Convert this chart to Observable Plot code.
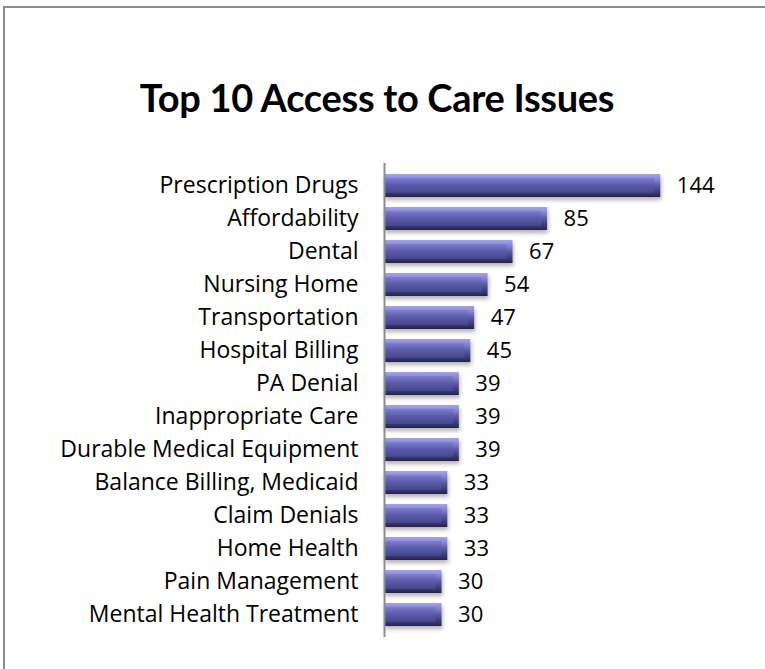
<!DOCTYPE html>
<html>
<head>
<meta charset="utf-8">
<script src="https://cdn.jsdelivr.net/npm/d3@7"></script>
<script src="https://cdn.jsdelivr.net/npm/@observablehq/plot@0.6"></script>
<style>
  html, body { margin: 0; padding: 0; background: #fff; }
  body { width: 765px; height: 669px; position: relative; overflow: hidden; font-family: "Open Sans", Lato, sans-serif; }
  #frame { position: absolute; left: 3px; top: 6px; width: 800px; height: 700px; border-left: 2px solid #8c8c8c; border-top: 2px solid #8c8c8c; }
  #title { position: absolute; left: 0; width: 754px; top: 74px; text-align: center; font-family: Lato, sans-serif; font-weight: 700; font-size: 38px; color: #000; letter-spacing: -0.3px; }
  #chart { position: absolute; left: 0; top: 140px; }
</style>
</head>
<body>
<div id="frame"></div>
<div id="title">Top 10 Access to Care Issues</div>
<div id="chart"></div>
<script>
const categories = ["Prescription Drugs", "Affordability", "Dental", "Nursing Home", "Transportation", "Hospital Billing", "PA Denial", "Inappropriate Care", "Durable Medical Equipment", "Balance Billing, Medicaid", "Claim Denials", "Home Health", "Pain Management", "Mental Health Treatment"];
const counts = [144, 85, 67, 54, 47, 45, 39, 39, 39, 33, 33, 33, 30, 30];

const data = categories.map((c, i) => ({category: c, count: counts[i]}));

const plot = Plot.plot({
  width: 765,
  height: 520,
  marginLeft: 384,
  marginRight: 74,
  marginTop: 23,
  marginBottom: 23,
  x: {domain: [0, 160], axis: null},
  y: {domain: categories, padding: 0.29, label: null},
  style: {fontFamily: "'Open Sans', Lato, sans-serif", fontSize: "22px", color: "#000", background: "transparent", overflow: "visible"},
  marks: [
    Plot.barX(data, {x: "count", y: "category", fill: "url(#barOuter)"}),
    Plot.barX(data, {x: "count", y: "category", insetTop: 4, insetBottom: 4, insetRight: 6, fill: "url(#barInner)"}),
    Plot.ruleX([0], {stroke: "#8c8c8c", strokeWidth: 2}),
    Plot.text(data, {x: "count", y: "category", text: d => String(d.count), dx: 16, textAnchor: "start", fontSize: 22, fill: "#000"}),
    Plot.axisY({tickSize: 0, tickPadding: 26, fontSize: 23, label: null})
  ]
});

const ns = "http://www.w3.org/2000/svg";
const defs = document.createElementNS(ns, "defs");
defs.innerHTML = `
  <linearGradient id="barOuter" x1="0" y1="0" x2="0" y2="1">
    <stop offset="0" stop-color="#a4a4ec"/>
    <stop offset="0.2" stop-color="#8a8ad8"/>
    <stop offset="0.5" stop-color="#5a5aa6"/>
    <stop offset="0.8" stop-color="#3a3a74"/>
    <stop offset="1" stop-color="#24244a"/>
  </linearGradient>
  <linearGradient id="barInner" x1="0" y1="0" x2="0" y2="1">
    <stop offset="0" stop-color="#7e7ed0"/>
    <stop offset="0.45" stop-color="#5c5cac"/>
    <stop offset="1" stop-color="#46468c"/>
  </linearGradient>
  <filter id="shadow" x="-5%" y="-30%" width="115%" height="180%">
    <feDropShadow dx="1" dy="3" stdDeviation="2" flood-color="#000" flood-opacity="0.3"/>
  </filter>`;
plot.insertBefore(defs, plot.firstChild);
const bars = plot.querySelectorAll('g[aria-label="bar"]');
if (bars.length) bars[0].setAttribute("filter", "url(#shadow)");
document.getElementById("chart").appendChild(plot);
</script>
</body>
</html>
